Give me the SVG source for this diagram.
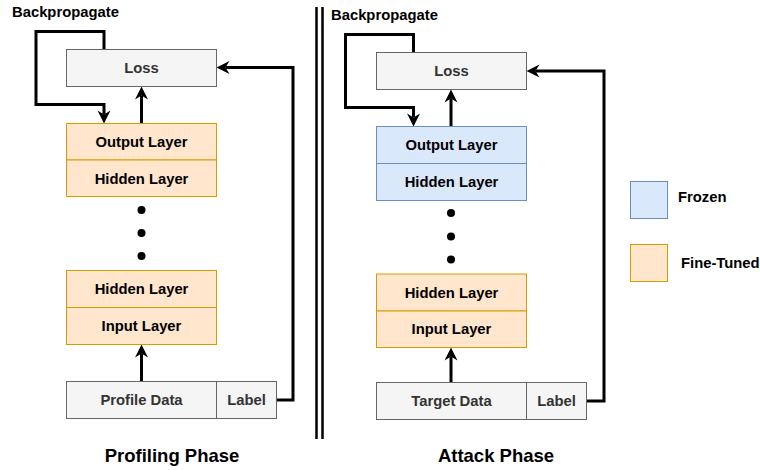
<svg xmlns="http://www.w3.org/2000/svg" width="760" height="470" viewBox="0 0 760 470">
<defs>
<style>
text{font-family:"Liberation Sans",Arial,sans-serif;font-weight:bold;text-anchor:middle;dominant-baseline:central}
.lbl{font-size:14.8px;fill:#000}
.gr{font-size:14.8px;fill:#333}
.ttl{font-size:18.5px;fill:#000}
.bp{font-size:14.8px;fill:#000;text-anchor:start}
.gray{fill:#f5f5f5;stroke:#666;stroke-width:1}
.orange{fill:#ffe6cc;stroke:#d79b00;stroke-width:1}
.blue{fill:#dae8fc;stroke:#6c8ebf;stroke-width:1}
.edge{fill:none;stroke:#000;stroke-width:3}
.sep{fill:none;stroke:#000;stroke-width:2.5}
</style>
<marker id="arr" markerUnits="userSpaceOnUse" viewBox="0 0 14 14" markerWidth="14" markerHeight="14" refX="4.5" refY="7" orient="auto">
<path d="M13.5,7 L0.5,0.5 L4.5,7 L0.5,13.5 Z" fill="#000"/>
</marker>
</defs>

<g id="connectors">
<path class="edge" d="M104,49.5 V31.5 H36 V104.5 H104 V114.5" marker-end="url(#arr)"/>
<path class="edge" d="M141.5,123.5 V95.5" marker-end="url(#arr)"/>
<path class="edge" d="M141.5,381.5 V353.5" marker-end="url(#arr)"/>
<path class="edge" d="M276.5,400 H293 V67.5 H225.5" marker-end="url(#arr)"/>
<path class="edge" d="M413.5,52.5 V34.5 H345.5 V107.5 H413.5 V117.5" marker-end="url(#arr)"/>
<path class="edge" d="M451,126.5 V98.5" marker-end="url(#arr)"/>
<path class="edge" d="M451,382.5 V356.5" marker-end="url(#arr)"/>
<path class="edge" d="M586.5,401 H604 V71 H535.5" marker-end="url(#arr)"/>
</g>

<g id="separator">
<line class="sep" x1="316.5" y1="7" x2="316.5" y2="439"/>
<line class="sep" x1="322.5" y1="7" x2="322.5" y2="439"/>
</g>

<g id="profiling">
<text class="bp" x="12" y="12">Backpropagate</text>
<g id="p-loss"><rect class="gray" x="66.5" y="49.5" width="150" height="37"/><text class="gr" x="141.5" y="68">Loss</text></g>
<g id="p-output"><rect class="orange" x="66.5" y="123.5" width="150" height="36.5"/><text class="lbl" x="141.5" y="142">Output Layer</text></g>
<g id="p-hidden1"><rect class="orange" x="66.5" y="160" width="150" height="36.5"/><text class="lbl" x="141.5" y="178.5">Hidden Layer</text></g>
<g id="p-dots"><circle cx="141.5" cy="210" r="4"/><circle cx="141.5" cy="233" r="4"/><circle cx="141.5" cy="256" r="4"/></g>
<g id="p-hidden2"><rect class="orange" x="66.5" y="270.5" width="150" height="37"/><text class="lbl" x="141.5" y="289">Hidden Layer</text></g>
<g id="p-input"><rect class="orange" x="66.5" y="307.5" width="150" height="37"/><text class="lbl" x="141.5" y="326">Input Layer</text></g>
<g id="p-data"><rect class="gray" x="66.5" y="381.5" width="150" height="37"/><text class="gr" x="141.5" y="400">Profile Data</text></g>
<g id="p-label"><rect class="gray" x="216.5" y="381.5" width="60" height="37"/><text class="gr" x="246.5" y="400">Label</text></g>
<text class="ttl" x="172" y="455">Profiling Phase</text>
</g>

<g id="attack">
<text class="bp" x="331" y="15">Backpropagate</text>
<g id="a-loss"><rect class="gray" x="376.5" y="52.5" width="150" height="37"/><text class="gr" x="451.5" y="71">Loss</text></g>
<g id="a-output"><rect class="blue" x="376.5" y="126.5" width="150" height="37"/><text class="lbl" x="451.5" y="145">Output Layer</text></g>
<g id="a-hidden1"><rect class="blue" x="376.5" y="163.5" width="150" height="37"/><text class="lbl" x="451.5" y="182">Hidden Layer</text></g>
<g id="a-dots"><circle cx="451" cy="213" r="4"/><circle cx="451" cy="236.5" r="4"/><circle cx="451" cy="259.5" r="4"/></g>
<g id="a-hidden2"><rect class="orange" x="376.5" y="274" width="150" height="37"/><text class="lbl" x="451.5" y="292.5">Hidden Layer</text></g>
<g id="a-input"><rect class="orange" x="376.5" y="311" width="150" height="36.5"/><text class="lbl" x="451.5" y="329">Input Layer</text></g>
<g id="a-data"><rect class="gray" x="376.5" y="382.5" width="150" height="37"/><text class="gr" x="451.5" y="401">Target Data</text></g>
<g id="a-label"><rect class="gray" x="526.5" y="382.5" width="60" height="37"/><text class="gr" x="556.5" y="401">Label</text></g>
<text class="ttl" x="496" y="455">Attack Phase</text>
</g>

<g id="legend">
<g id="leg-frozen"><rect class="blue" x="630.5" y="181.5" width="37" height="37"/><text class="bp" x="678" y="197">Frozen</text></g>
<g id="leg-fine"><rect class="orange" x="630.5" y="244.5" width="37" height="37"/><text class="bp" x="681" y="263">Fine-Tuned</text></g>
</g>
</svg>
